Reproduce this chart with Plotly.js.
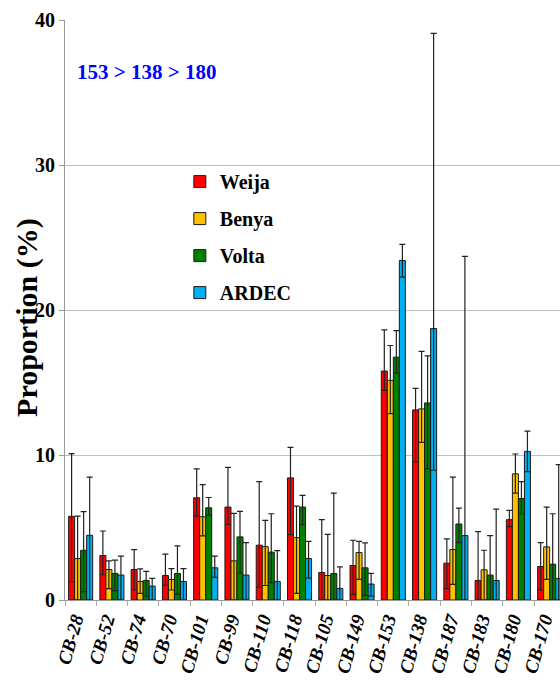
<!DOCTYPE html>
<html>
<head>
<meta charset="utf-8">
<script src="https://cdn.plot.ly/plotly-3.0.1.min.js"></script>
<style>html,body{margin:0;padding:0;background:#fff;}#chart{width:560px;height:687px;}</style>
</head>
<body>
<div id="chart"></div>
<script>
const categories = ["CB-28","CB-52","CB-74","CB-70","CB-101","CB-99","CB-110","CB-118","CB-105","CB-149","CB-153","CB-138","CB-187","CB-183","CB-180","CB-170"];

const weija     = [5.77, 3.07, 2.10, 1.69, 7.05, 6.41, 3.78, 8.42, 1.90, 2.38, 15.79, 13.11, 2.54, 1.35, 5.54, 2.31];
const weijaUp   = [4.33, 1.69, 1.38, 1.47, 1.99, 2.74, 4.39, 2.11, 3.64, 1.74, 2.84, 1.49, 1.67, 3.36, 0.64, 1.65];
const weijaDown = [4.51, 1.33, 1.41, 0.66, 1.26, 1.19, 2.89, 3.91, 1.90, 1.99, 1.33, 3.59, 1.76, 1.35, 0.48, 1.62];

const benya     = [2.86, 2.10, 1.28, 1.42, 5.74, 2.70, 3.68, 4.30, 1.69, 3.27, 15.15, 13.18, 3.48, 2.08, 8.70, 3.66];
const benyaUp   = [2.93, 0.60, 0.87, 0.75, 2.22, 3.27, 1.81, 2.18, 2.84, 0.78, 2.40, 3.96, 4.99, 1.35, 1.37, 2.75];
const benyaDown = [2.86, 1.32, 0.82, 0.73, 1.32, 2.70, 2.68, 3.84, 1.69, 1.85, 2.29, 2.31, 2.40, 2.08, 1.33, 2.24];

const volta     = [3.43, 1.83, 1.35, 1.83, 6.36, 4.35, 3.30, 6.41, 1.83, 2.22, 16.75, 13.59, 5.24, 1.72, 7.00, 2.47];
const voltaUp   = [2.67, 0.92, 0.62, 1.90, 0.71, 1.76, 2.65, 0.80, 5.54, 1.72, 1.83, 3.25, 1.10, 2.72, 1.17, 3.48];
const voltaDown = [2.86, 1.19, 1.08, 1.44, 0.50, 2.52, 2.11, 1.22, 1.83, 1.90, 1.10, 4.55, 1.28, 1.72, 1.07, 2.47];

const ardec     = [4.46, 1.72, 0.96, 1.28, 2.22, 1.72, 1.28, 2.86, 0.80, 1.10, 23.41, 18.72, 4.44, 1.35, 10.25, 1.49];
const ardecUp   = [4.01, 1.30, 0.53, 0.89, 0.80, 2.24, 2.13, 1.19, 1.49, 0.73, 1.12, 20.36, 19.26, 4.92, 1.40, 7.85];
const ardecDown = [4.46, 1.72, 0.96, 1.28, 0.66, 1.72, 1.28, 1.35, 0.80, 0.83, 1.14, 9.77, 4.44, 1.35, 1.39, 1.49];

const seriesNames = ["Weija", "Benya", "Volta", "ARDEC"];
const seriesColors = ["#FF0000", "#FFC000", "#008000", "#00B0F0"];
const seriesData = [[weija, weijaUp, weijaDown], [benya, benyaUp, benyaDown], [volta, voltaUp, voltaDown], [ardec, ardecUp, ardecDown]];

const serif = "Liberation Serif, Times New Roman, serif";

const traces = seriesData.map((s, i) => ({
  type: "bar",
  name: seriesNames[i],
  legendgroup: "g" + i,
  x: categories,
  y: s[0],
  marker: {color: seriesColors[i], line: {color: "#1a1a1a", width: 1}},
  error_y: {type: "data", symmetric: false, array: s[1], arrayminus: s[2], color: "#222", thickness: 1.2, width: 3, visible: true},
  cliponaxis: true
}));

const layout = {
  width: 560, height: 687,
  margin: {l: 65, r: 0, t: 20, b: 87},
  paper_bgcolor: "#fff", plot_bgcolor: "#fff",
  font: {family: serif, color: "#000", weight: "bold"},
  barmode: "group",
  bargap: 0.23,
  bargroupgap: 0,
  showlegend: true,
  legend: {x: 0.232, y: 0.755, xanchor: "left", yanchor: "top", bgcolor: "rgba(0,0,0,0)",
           font: {family: serif, size: 20, weight: "bold", color: "#000"}, tracegroupgap: 8, itemwidth: 30},
  xaxis: {
    type: "category", range: [-0.5, 15.33], fixedrange: true,
    showline: true, linecolor: "#999", linewidth: 1,
    ticks: "outside", tickson: "boundaries", ticklen: 5, tickcolor: "#aaa",
    tickangle: -74, ticklabelshift: -6,
    tickfont: {family: serif, size: 19, weight: "bold", style: "italic", color: "#000"},
    showgrid: false, automargin: false
  },
  yaxis: {
    range: [0, 40], tickvals: [0, 10, 20, 30, 40], ticktext: ["0", "10", "20", "30", "40"],
    showline: true, linecolor: "#999", linewidth: 1,
    ticks: "outside", ticklen: 5, tickcolor: "#999",
    showgrid: true, gridcolor: "#BFBFBF", gridwidth: 1,
    zeroline: false,
    tickfont: {family: serif, size: 20, weight: "bold", color: "#000"},
    automargin: false
  },
  annotations: [{
    xref: "paper", yref: "paper", x: 0.165, y: 0.91, xanchor: "center", yanchor: "middle",
    text: "153 > 138 > 180", showarrow: false,
    font: {family: serif, size: 21, weight: "bold", color: "#0000FF"}
  }, {
    xref: "paper", yref: "paper", x: -0.0768, y: 0.488, xanchor: "center", yanchor: "middle",
    text: "Proportion (%)", textangle: -90, showarrow: false,
    font: {family: serif, size: 30, weight: "bold", color: "#000"}
  }]
};

Plotly.newPlot("chart", traces, layout, {displayModeBar: false, staticPlot: true});
</script>
</body>
</html>
